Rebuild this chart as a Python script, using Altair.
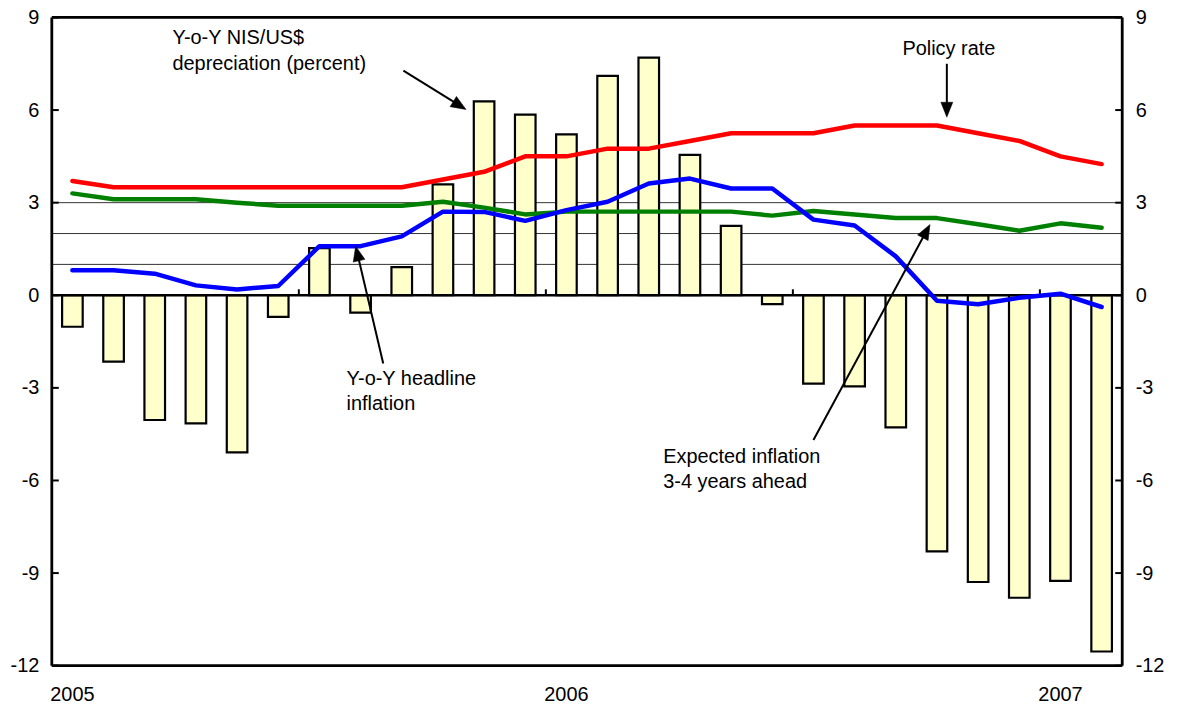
import math
import altair as alt
import pandas as pd

# ---------------- data ----------------
months = ["2005-01", "2005-02", "2005-03", "2005-04", "2005-05", "2005-06",
          "2005-07", "2005-08", "2005-09", "2005-10", "2005-11", "2005-12",
          "2006-01", "2006-02", "2006-03", "2006-04", "2006-05", "2006-06",
          "2006-07", "2006-08", "2006-09", "2006-10", "2006-11", "2006-12",
          "2007-01", "2007-02"]
depreciation = [-1.02, -2.15, -4.04, -4.15, -5.09, -0.70, 1.53, -0.56, 0.91, 3.59,
                6.28, 5.85, 5.21, 7.11, 7.70, 4.55, 2.25, -0.29, -2.86, -2.95,
                -4.28, -8.30, -9.29, -9.80, -9.25, -11.54]
policy_rate = [3.70, 3.50, 3.50, 3.50, 3.50, 3.50, 3.50, 3.50, 3.50, 3.75,
               4.00, 4.50, 4.50, 4.75, 4.75, 5.00, 5.25, 5.25, 5.25, 5.50,
               5.50, 5.50, 5.25, 5.00, 4.50, 4.25]
headline_inflation = [0.81, 0.81, 0.70, 0.32, 0.19, 0.30, 1.59, 1.59, 1.91, 2.71,
                      2.70, 2.41, 2.76, 3.03, 3.62, 3.78, 3.46, 3.46, 2.45, 2.26,
                      1.26, -0.18, -0.29, -0.08, 0.05, -0.38]
expected_inflation = [3.30, 3.11, 3.11, 3.11, 3.00, 2.90, 2.90, 2.90, 2.90, 3.03,
                      2.84, 2.62, 2.71, 2.71, 2.71, 2.71, 2.71, 2.58, 2.73, 2.62,
                      2.50, 2.50, 2.30, 2.09, 2.33, 2.19]
target_band = [1, 2, 3]
y_ticks = [-12, -9, -6, -3, 0, 3, 6, 9]
year_positions = [0, 12, 24]
year_labels = ["2005", "2006", "2007"]
halfyear_ticks = [5.5, 11.5, 17.5, 23.5]

# annotations (data units)
ann_text = [
    {"t": "Y-o-Y NIS/US$", "x": 2.43, "y": 8.15, "align": "left"},
    {"t": "depreciation (percent)", "x": 2.43, "y": 7.31, "align": "left"},
    {"t": "Policy rate", "x": 21.29, "y": 7.79, "align": "center"},
    {"t": "Y-o-Y headline", "x": 6.66, "y": -2.92, "align": "left"},
    {"t": "inflation", "x": 6.66, "y": -3.72, "align": "left"},
    {"t": "Expected inflation", "x": 14.35, "y": -5.43, "align": "left"},
    {"t": "3-4 years ahead", "x": 14.35, "y": -6.25, "align": "left"},
]
arrows = [  # start x, start y, tip x, tip y
    (8.04, 7.28, 9.56, 6.02),
    (21.24, 7.50, 21.24, 5.77),
    (7.55, -2.21, 6.88, 1.59),
    (18.00, -4.69, 20.83, 2.29),
]

# ---------------- layout ----------------
W, H = 1075, 651
XMIN, XMAX = -0.5, len(months) - 0.5
YMIN, YMAX = -12, 9
PX = W / (XMAX - XMIN)
PY = H / (YMAX - YMIN)
FONT = "Liberation Sans"
FS = 20

xs = alt.Scale(domain=[XMIN, XMAX], nice=False, zero=False)
ys = alt.Scale(domain=[YMIN, YMAX], nice=False, zero=False)

idx = list(range(len(months)))
df = pd.DataFrame({
    "idx": idx,
    "x0": [i - 0.25 for i in idx],
    "x1": [i + 0.25 for i in idx],
    "dep": depreciation,
    "policy": policy_rate,
    "headline": headline_inflation,
    "expected": expected_inflation,
})


def yaxis(orient):
    return alt.Axis(orient=orient, values=y_ticks, ticks=False, domain=False, grid=False,
                    labelFontSize=FS, labelColor="black", labelFont=FONT, labelPadding=13,
                    labelExpr="'' + datum.value", title=None)


band = alt.Chart(pd.DataFrame({"v": target_band})).mark_rule(
    color="#333333", strokeWidth=1
).encode(y=alt.Y("v:Q", scale=ys, axis=None))

bars = alt.Chart(df).mark_bar(fill="#FFFFCC", stroke="black", strokeWidth=2.2).encode(
    x=alt.X("x0:Q", scale=xs, axis=None),
    x2="x1:Q",
    y=alt.Y("dep:Q", scale=ys, axis=yaxis("left")),
    y2=alt.Y2(datum=0),
)

zero = alt.Chart(pd.DataFrame({"v": [0]})).mark_rule(color="black", strokeWidth=2.5).encode(
    y=alt.Y("v:Q", scale=ys, axis=None)
)

hticks = alt.Chart(pd.DataFrame({"tx": halfyear_ticks, "a": 0.0, "b": 6 / PY})).mark_rule(
    color="black", strokeWidth=2
).encode(
    x=alt.X("tx:Q", scale=xs, axis=None),
    y=alt.Y("a:Q", scale=ys, axis=None),
    y2="b:Q",
)

tick_df = pd.DataFrame({
    "v": y_ticks,
    "lx0": [XMIN] * len(y_ticks),
    "lx1": [XMIN + 7 / PX] * len(y_ticks),
    "rx0": [XMAX - 7 / PX] * len(y_ticks),
    "rx1": [XMAX] * len(y_ticks),
})
lticks = alt.Chart(tick_df).mark_rule(color="black", strokeWidth=2).encode(
    x=alt.X("lx0:Q", scale=xs, axis=None), x2="lx1:Q",
    y=alt.Y("v:Q", scale=ys, axis=None),
)
rticks = alt.Chart(tick_df).mark_rule(color="black", strokeWidth=2).encode(
    x=alt.X("rx0:Q", scale=xs, axis=None), x2="rx1:Q",
    y=alt.Y("v:Q", scale=ys, axis=yaxis("right")),
)

frame_df = pd.DataFrame({
    "x0": [XMIN, XMAX, XMIN, XMIN],
    "x1": [XMIN, XMAX, XMAX, XMAX],
    "y0": [YMIN, YMIN, YMIN, YMAX],
    "y1": [YMAX, YMAX, YMIN, YMAX],
})
frame = alt.Chart(frame_df).mark_rule(color="black", strokeWidth=2.8).encode(
    x=alt.X("x0:Q", scale=xs, axis=None), x2="x1:Q",
    y=alt.Y("y0:Q", scale=ys, axis=None), y2="y1:Q",
)


def series(col, color):
    return alt.Chart(df).mark_line(color=color, strokeWidth=4.5, strokeCap="round",
                                   strokeJoin="round").encode(
        x=alt.X("idx:Q", scale=xs, axis=None),
        y=alt.Y(f"{col}:Q", scale=ys, axis=None),
    )


green = series("expected", "#008000")
red = series("policy", "#FF0000")
blue = series("headline", "#0000FF")

# arrows
HEAD = 15.0
rows, heads = [], []
for sx, sy, tx, ty in arrows:
    dxp = (tx - sx) * PX
    dyp = -(ty - sy) * PY
    ln = math.hypot(dxp, dyp)
    ux, uy = dxp / ln, dyp / ln
    ang = math.degrees(math.atan2(ux, -uy)) % 360
    cx = tx - (HEAD / 2) * ux / PX
    cy = ty + (HEAD / 2) * uy / PY
    ex = tx - (HEAD * 0.8) * ux / PX
    ey = ty + (HEAD * 0.8) * uy / PY
    rows.append({"sx": sx, "sy": sy, "ex": ex, "ey": ey})
    heads.append({"cx": cx, "cy": cy, "ang": ang})

shafts = alt.Chart(pd.DataFrame(rows)).mark_rule(color="black", strokeWidth=2).encode(
    x=alt.X("sx:Q", scale=xs, axis=None), x2="ex:Q",
    y=alt.Y("sy:Q", scale=ys, axis=None), y2="ey:Q",
)
arrowheads = alt.Chart(pd.DataFrame(heads)).mark_point(
    shape="M0,-1L-0.8,1L0.8,1Z", filled=True, fill="black", stroke="black",
    strokeWidth=0.5, opacity=1, size=(HEAD / 2) ** 2 * 4,
).encode(
    x=alt.X("cx:Q", scale=xs, axis=None),
    y=alt.Y("cy:Q", scale=ys, axis=None),
    angle=alt.Angle("ang:Q", scale=None),
)

tdf = pd.DataFrame(ann_text)


def text_layer(frame_, align):
    return alt.Chart(frame_).mark_text(
        align=align, baseline="alphabetic", fontSize=FS, font=FONT, color="black"
    ).encode(
        x=alt.X("x:Q", scale=xs, axis=None),
        y=alt.Y("y:Q", scale=ys, axis=None),
        text="t:N",
    )


texts_left = text_layer(tdf[tdf["align"] == "left"], "left")
texts_center = text_layer(tdf[tdf["align"] == "center"], "center")

year_df = pd.DataFrame({"t": year_labels, "x": year_positions,
                        "y": [YMIN - 35 / PY] * len(year_labels)})
years = text_layer(year_df, "center")

chart = alt.layer(
    band, bars, zero, hticks, lticks, rticks, frame, green, red, blue,
    shafts, arrowheads, texts_left, texts_center, years,
).resolve_axis(y="independent").properties(
    width=W, height=H,
    autosize=alt.AutoSizeParams(type="none"),
    padding={"left": 44, "top": 8, "right": 50, "bottom": 40},
).configure_view(
    strokeWidth=0
).configure(font=FONT, background="white")

chart.save("out.html", embed_options={"renderer": "svg", "actions": False})
